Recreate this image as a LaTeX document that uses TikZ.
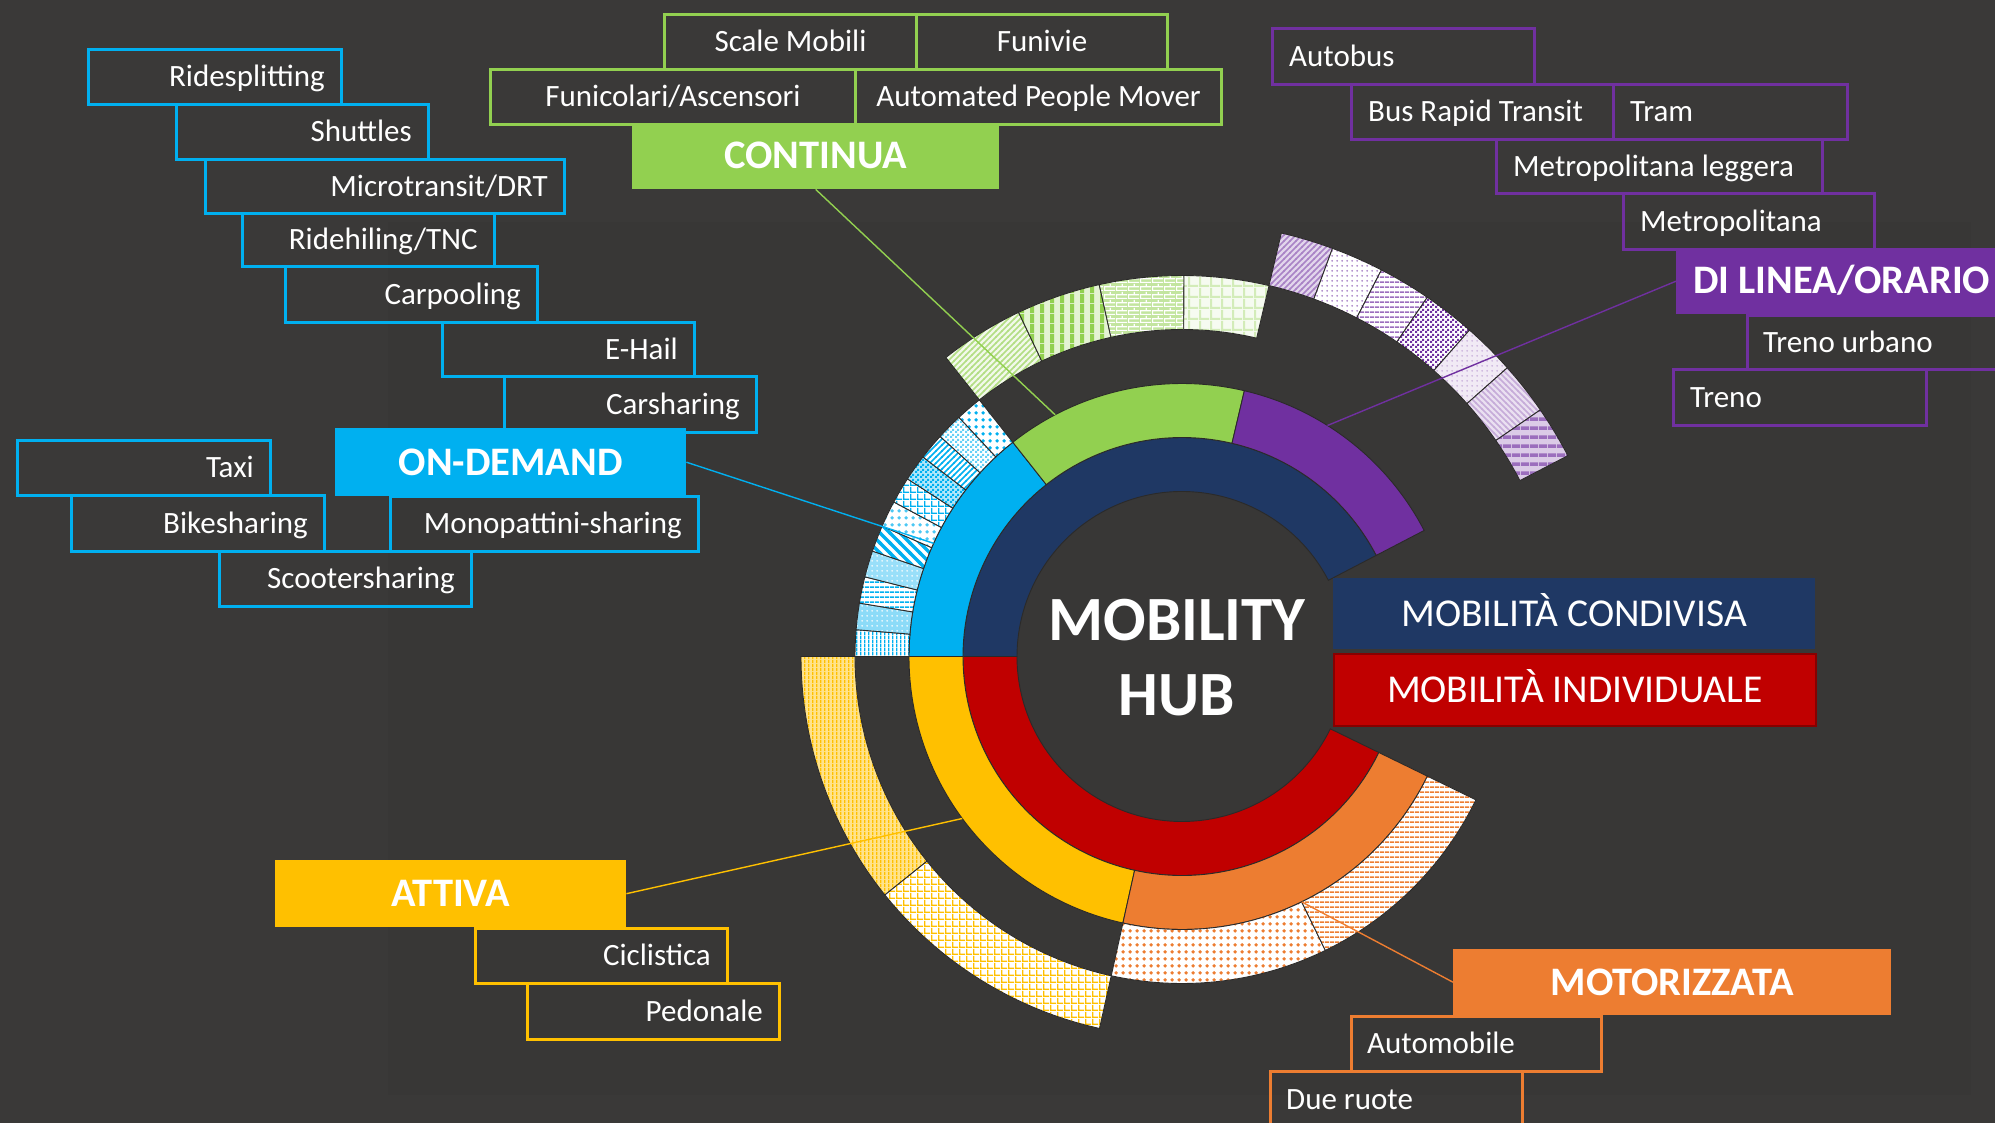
\documentclass[tikz,border=0pt]{standalone}
\usepackage{fontspec}
\setmainfont{Carlito}
\usetikzlibrary{patterns}
\definecolor{bgout}{HTML}{3A3938}
\definecolor{bgin}{HTML}{383736}
\definecolor{navy}{HTML}{1F3864}
\definecolor{cred}{HTML}{C00000}
\definecolor{ccyan}{HTML}{00B0F0}
\definecolor{cgreen}{HTML}{92D050}
\definecolor{cpurple}{HTML}{7030A0}
\definecolor{cyellow}{HTML}{FFC000}
\definecolor{corange}{HTML}{ED7D31}
\definecolor{sep}{HTML}{2B2A29}
\pgfdeclarepatternformonly{hstr}{\pgfpointorigin}{\pgfqpoint{5pt}{5pt}}{\pgfqpoint{5pt}{5pt}}{\pgfpathrectangle{\pgfpointorigin}{\pgfqpoint{5pt}{2pt}}\pgfusepath{fill}}
\pgfdeclarepatternformonly{hwide}{\pgfpointorigin}{\pgfqpoint{9pt}{9pt}}{\pgfqpoint{9pt}{9pt}}{\pgfpathrectangle{\pgfpointorigin}{\pgfqpoint{9pt}{4pt}}\pgfusepath{fill}}
\pgfdeclarepatternformonly{vstr}{\pgfpointorigin}{\pgfqpoint{4pt}{4pt}}{\pgfqpoint{4pt}{4pt}}{\pgfpathrectangle{\pgfpointorigin}{\pgfqpoint{1.6pt}{4pt}}\pgfusepath{fill}}
\pgfdeclarepatternformonly{vwide}{\pgfpointorigin}{\pgfqpoint{10pt}{10pt}}{\pgfqpoint{10pt}{10pt}}{\pgfpathrectangle{\pgfpointorigin}{\pgfqpoint{4.5pt}{10pt}}\pgfusepath{fill}}
\pgfdeclarepatternformonly{dsmall}{\pgfpointorigin}{\pgfqpoint{5pt}{5pt}}{\pgfqpoint{5pt}{5pt}}{\pgfpathcircle{\pgfqpoint{2.5pt}{2.5pt}}{1.1pt}\pgfusepath{fill}}
\pgfdeclarepatternformonly{dbig}{\pgfpointorigin}{\pgfqpoint{7pt}{7pt}}{\pgfqpoint{7pt}{7pt}}{\pgfpathcircle{\pgfqpoint{3.5pt}{3.5pt}}{2.1pt}\pgfusepath{fill}}
\pgfdeclarepatternformonly{gsmall}{\pgfpointorigin}{\pgfqpoint{7pt}{7pt}}{\pgfqpoint{7pt}{7pt}}{\pgfpathrectangle{\pgfpointorigin}{\pgfqpoint{7pt}{1.6pt}}\pgfpathrectangle{\pgfpointorigin}{\pgfqpoint{1.6pt}{7pt}}\pgfusepath{fill}}
\pgfdeclarepatternformonly{gbig}{\pgfpointorigin}{\pgfqpoint{11pt}{11pt}}{\pgfqpoint{11pt}{11pt}}{\pgfpathrectangle{\pgfpointorigin}{\pgfqpoint{11pt}{2.2pt}}\pgfpathrectangle{\pgfpointorigin}{\pgfqpoint{2.2pt}{11pt}}\pgfusepath{fill}}
\pgfdeclarepatternformonly{chk}{\pgfpointorigin}{\pgfqpoint{5pt}{5pt}}{\pgfqpoint{5pt}{5pt}}{\pgfpathrectangle{\pgfpointorigin}{\pgfqpoint{2.5pt}{2.5pt}}\pgfpathrectangle{\pgfqpoint{2.5pt}{2.5pt}}{\pgfqpoint{2.5pt}{2.5pt}}\pgfusepath{fill}}
\pgfdeclarepatternformonly{dne}{\pgfqpoint{-1pt}{-1pt}}{\pgfqpoint{7pt}{7pt}}{\pgfqpoint{6pt}{6pt}}{\pgfsetlinewidth{1.5pt}\pgfpathmoveto{\pgfqpoint{-0.5pt}{-0.5pt}}\pgfpathlineto{\pgfqpoint{6.5pt}{6.5pt}}\pgfusepath{stroke}}
\pgfdeclarepatternformonly{dnw}{\pgfqpoint{-1pt}{-1pt}}{\pgfqpoint{7pt}{7pt}}{\pgfqpoint{6pt}{6pt}}{\pgfsetlinewidth{1.5pt}\pgfpathmoveto{\pgfqpoint{-0.5pt}{6.5pt}}\pgfpathlineto{\pgfqpoint{6.5pt}{-0.5pt}}\pgfusepath{stroke}}
\pgfdeclarepatternformonly{dnwwide}{\pgfqpoint{-2pt}{-2pt}}{\pgfqpoint{12pt}{12pt}}{\pgfqpoint{10pt}{10pt}}{\pgfsetlinewidth{3.5pt}\pgfpathmoveto{\pgfqpoint{-1pt}{11pt}}\pgfpathlineto{\pgfqpoint{11pt}{-1pt}}\pgfusepath{stroke}}
\pgfdeclarepatternformonly{brk}{\pgfpointorigin}{\pgfqpoint{12pt}{8pt}}{\pgfqpoint{12pt}{8pt}}{\pgfpathrectangle{\pgfpointorigin}{\pgfqpoint{12pt}{1.3pt}}\pgfpathrectangle{\pgfqpoint{0pt}{4pt}}{\pgfqpoint{12pt}{1.3pt}}\pgfpathrectangle{\pgfpointorigin}{\pgfqpoint{1.3pt}{4pt}}\pgfpathrectangle{\pgfqpoint{6pt}{4pt}}{\pgfqpoint{1.3pt}{4pt}}\pgfusepath{fill}}
\newcommand\seg[5]{\path[#1] (#4:#2pt) arc[start angle=#4, end angle=#5, radius=#2pt] -- (#5:#3pt) arc[start angle=#5, end angle=#4, radius=#3pt] -- cycle;}
\newcommand\pseg[7]{\seg{fill=#1}{#4}{#5}{#6}{#7}\seg{pattern=#2,pattern color=#3}{#4}{#5}{#6}{#7}\seg{sepl}{#4}{#5}{#6}{#7}}
\begin{document}
\begin{tikzpicture}[x=1pt,y=-1pt,
  sepl/.style={draw=sep,line width=0.9pt},
  obox/.style={draw=#1,line width=3pt,inner sep=0pt,anchor=north west},
  fbox/.style={fill=#1,inner sep=0pt,anchor=north west},
  itm/.style={text=white,font=\fontsize{31}{37}\selectfont,text height=19.6pt,text depth=0pt,inner sep=0pt},
  cat/.style={text=white,font=\bfseries\fontsize{40.5}{48}\selectfont,text height=25.6pt,text depth=0pt,inner sep=0pt},
  leg/.style={text=white,font=\fontsize{39.5}{47}\selectfont,text height=25pt,text depth=0pt,inner sep=0pt},
  hub/.style={text=white,font=\bfseries\fontsize{63}{75}\selectfont,inner sep=0pt,anchor=base},
  conn/.style={line width=1.4pt}]
\useasboundingbox (0,0) rectangle (1995,1123);
\clip (0,0) rectangle (1995,1123);
\fill[bgout] (0,0) rectangle (1995,1123);
\fill[bgin] (388,222) rectangle (1971,1095);

\begin{scope}[shift={(1182pt,-656.5pt)},x=1pt,y=1pt]
 % ring 1
 \seg{fill=navy,sepl}{165}{219}{27.5}{180}
 \seg{fill=cred,sepl}{165}{219}{180}{334}
 % ring 2
 \seg{fill=ccyan,sepl}{219}{273}{128.3}{180}
 \seg{fill=cgreen,sepl}{219}{273}{76.8}{128.3}
 \seg{fill=cpurple,sepl}{219}{273}{27.5}{76.8}
 \seg{fill=cyellow,sepl}{219}{273}{180}{257.5}
 \seg{fill=corange,sepl}{219}{273}{257.5}{334}
 % ring 3: on-demand
 \pseg{white}{vstr}{ccyan}{273}{327}{175.3}{180}
 \pseg{ccyan!45}{dsmall}{white}{273}{327}{170.6}{175.3}
 \pseg{white}{hstr}{ccyan}{273}{327}{165.9}{170.6}
 \pseg{ccyan!40}{dsmall}{white}{273}{327}{161.2}{165.9}
 \pseg{white}{dnwwide}{ccyan}{273}{327}{156.5}{161.2}
 \pseg{white}{dbig}{ccyan!70}{273}{327}{151.8}{156.5}
 \pseg{white}{gsmall}{ccyan}{273}{327}{147.1}{151.8}
 \pseg{ccyan!30}{chk}{ccyan}{273}{327}{142.4}{147.1}
 \pseg{white}{dne}{ccyan}{273}{327}{137.7}{142.4}
 \pseg{white}{chk}{ccyan!60}{273}{327}{133.0}{137.7}
 \pseg{white}{dbig}{ccyan}{273}{327}{128.3}{133.0}
 % ring 3: motorizzata
 \pseg{white}{dbig}{corange}{273}{327}{257.5}{296}
 \pseg{white}{hstr}{corange}{273}{327}{296}{334}
 % ring 4: continua
 \pseg{cgreen!12}{dne}{cgreen!70}{327}{381}{115.4}{128.3}
 \pseg{cgreen!25}{vwide}{cgreen}{327}{381}{102.55}{115.4}
 \pseg{cgreen!55}{brk}{white}{327}{381}{89.7}{102.55}
 \pseg{cgreen!8}{gbig}{cgreen!40}{327}{381}{76.8}{89.7}
 % ring 4: attiva
 \pseg{cyellow!45}{vstr}{cyellow}{327}{381}{180}{218.75}
 \pseg{white}{gsmall}{cyellow}{327}{381}{218.75}{257.5}
 % ring 5: di linea
 \pseg{cpurple!20}{dne}{cpurple!60}{381}{435}{69.76}{76.8}
 \pseg{white}{dsmall}{cpurple!70}{381}{435}{62.71}{69.76}
 \pseg{white}{hstr}{cpurple!70}{381}{435}{55.67}{62.71}
 \pseg{white}{chk}{cpurple}{381}{435}{48.63}{55.67}
 \pseg{cpurple!10}{dsmall}{cpurple!40}{381}{435}{41.59}{48.63}
 \pseg{cpurple!15}{dnw}{cpurple!40}{381}{435}{34.54}{41.59}
 \pseg{cpurple!25}{hwide}{cpurple!70}{381}{435}{27.5}{34.54}
 % connector ends
 \coordinate (pg) at (117.7:273pt);
 \coordinate (pb) at (155.5:273pt);
 \coordinate (pp) at (57.8:273pt);
 \coordinate (py) at (216.4:273pt);
 \coordinate (po) at (296:273pt);
\end{scope}

% centre text
\node[hub] (hub1) at (1177,640) {MOBILITY};
\node[hub] (hub2) at (1177,715.5) {HUB};

% legend
\node[fbox=navy,minimum width=482pt,minimum height=71pt] (condiv) at (1333,578) {};
\node[leg] (condiv-t) at (condiv.center) {MOBILITÀ CONDIVISA};
\node[fill=cred,draw=cred!70!black,line width=1.5pt,inner sep=0pt,anchor=north west,minimum width=482pt,minimum height=72pt] (indiv) at (1333,653) {};
\node[leg] (indiv-t) at (indiv.center) {MOBILITÀ INDIVIDUALE};

% ON-DEMAND boxes
\node[obox=ccyan,minimum width=253pt,minimum height=55pt] (rides) at (87,48) {};
\node[itm,anchor=east] (rides-t) at ([xshift=-18pt]rides.east) {Ridesplitting};
\node[obox=ccyan,minimum width=252pt,minimum height=55pt] (shut) at (175,103) {};
\node[itm,anchor=east] (shut-t) at ([xshift=-18pt]shut.east) {Shuttles};
\node[obox=ccyan,minimum width=359pt,minimum height=54pt] (micro) at (204,158) {};
\node[itm,anchor=east] (micro-t) at ([xshift=-18pt]micro.east) {Microtransit/DRT};
\node[obox=ccyan,minimum width=252pt,minimum height=53pt] (rideh) at (241,212) {};
\node[itm,anchor=east] (rideh-t) at ([xshift=-18pt]rideh.east) {Ridehiling/TNC};
\node[obox=ccyan,minimum width=252pt,minimum height=56pt] (carp) at (284,265) {};
\node[itm,anchor=east] (carp-t) at ([xshift=-18pt]carp.east) {Carpooling};
\node[obox=ccyan,minimum width=252pt,minimum height=54pt] (ehail) at (441,321) {};
\node[itm,anchor=east] (ehail-t) at ([xshift=-18pt]ehail.east) {E-Hail};
\node[obox=ccyan,minimum width=252pt,minimum height=56pt] (cars) at (503,375) {};
\node[itm,anchor=east] (cars-t) at ([xshift=-18pt]cars.east) {Carsharing};
\node[obox=ccyan,minimum width=253pt,minimum height=55pt] (taxi) at (16,439) {};
\node[itm,anchor=east] (taxi-t) at ([xshift=-18pt]taxi.east) {Taxi};
\node[obox=ccyan,minimum width=253pt,minimum height=56pt] (bikes) at (70,494) {};
\node[itm,anchor=east] (bikes-t) at ([xshift=-18pt]bikes.east) {Bikesharing};
\node[obox=ccyan,minimum width=308pt,minimum height=55pt] (monop) at (389,495) {};
\node[itm,anchor=east] (monop-t) at ([xshift=-18pt]monop.east) {Monopattini-sharing};
\node[obox=ccyan,minimum width=252pt,minimum height=55pt] (scoot) at (218,550) {};
\node[itm,anchor=east] (scoot-t) at ([xshift=-18pt]scoot.east) {Scootersharing};
\node[fbox=ccyan,minimum width=351pt,minimum height=68pt] (ondem) at (335,428) {};
\node[cat] (ondem-t) at (ondem.center) {ON-DEMAND};

% CONTINUA boxes
\node[obox=cgreen,minimum width=252pt,minimum height=55pt] (scale) at (663,13) {};
\node[itm] (scale-t) at (scale.center) {Scale Mobili};
\node[obox=cgreen,minimum width=251pt,minimum height=55pt] (funiv) at (915,13) {};
\node[itm] (funiv-t) at (funiv.center) {Funivie};
\node[obox=cgreen,minimum width=365pt,minimum height=55pt] (funic) at (489,68) {};
\node[itm] (funic-t) at (funic.center) {Funicolari/Ascensori};
\node[obox=cgreen,minimum width=366pt,minimum height=55pt] (apm) at (854,68) {};
\node[itm] (apm-t) at (apm.center) {Automated People Mover};
\node[fbox=cgreen,minimum width=367pt,minimum height=66pt] (cont) at (632,123) {};
\node[cat] (cont-t) at (cont.center) {CONTINUA};

% DI LINEA boxes
\node[obox=cpurple,minimum width=262pt,minimum height=56pt] (autob) at (1271,27) {};
\node[itm,anchor=west] (autob-t) at ([xshift=18pt]autob.west) {Autobus};
\node[obox=cpurple,minimum width=262pt,minimum height=55pt] (brt) at (1350,83) {};
\node[itm,anchor=west] (brt-t) at ([xshift=18pt]brt.west) {Bus Rapid Transit};
\node[obox=cpurple,minimum width=234pt,minimum height=55pt] (tram) at (1612,83) {};
\node[itm,anchor=west] (tram-t) at ([xshift=18pt]tram.west) {Tram};
\node[obox=cpurple,minimum width=326pt,minimum height=54pt] (metl) at (1495,138) {};
\node[itm,anchor=west] (metl-t) at ([xshift=18pt]metl.west) {Metropolitana leggera};
\node[obox=cpurple,minimum width=251pt,minimum height=56pt] (metro) at (1622,192) {};
\node[itm,anchor=west] (metro-t) at ([xshift=18pt]metro.west) {Metropolitana};
\node[obox=cpurple,minimum width=260pt,minimum height=54pt] (trenou) at (1746,314) {};
\node[itm,anchor=west] (trenou-t) at ([xshift=17pt]trenou.west) {Treno urbano};
\node[obox=cpurple,minimum width=253pt,minimum height=56pt] (treno) at (1672,368) {};
\node[itm,anchor=west] (treno-t) at ([xshift=18pt]treno.west) {Treno};
\node[fbox=cpurple,minimum width=330pt,minimum height=66pt] (dil) at (1676,248) {};
\node[cat,anchor=west] (dil-t) at ([xshift=17pt]dil.west) {DI LINEA/ORARIO};

% ATTIVA boxes
\node[obox=cyellow,minimum width=252pt,minimum height=55pt] (cicl) at (474,927) {};
\node[itm,anchor=east] (cicl-t) at ([xshift=-18pt]cicl.east) {Ciclistica};
\node[obox=cyellow,minimum width=252pt,minimum height=56pt] (pedon) at (526,982) {};
\node[itm,anchor=east] (pedon-t) at ([xshift=-18pt]pedon.east) {Pedonale};
\node[fbox=cyellow,minimum width=351pt,minimum height=67pt] (attiva) at (275,860) {};
\node[cat] (attiva-t) at (attiva.center) {ATTIVA};

% MOTORIZZATA boxes
\node[obox=corange,minimum width=250pt,minimum height=55pt] (auto) at (1350,1015) {};
\node[itm,anchor=west] (auto-t) at ([xshift=17pt]auto.west) {Automobile};
\node[obox=corange,minimum width=252pt,minimum height=57pt] (due) at (1269,1070) {};
\node[itm,anchor=west] (due-t) at ([xshift=17pt]due.west) {Due ruote};
\node[fbox=corange,minimum width=438pt,minimum height=66pt] (motor) at (1453,949) {};
\node[cat] (motor-t) at (motor.center) {MOTORIZZATA};

% connectors
\draw[conn,cgreen] (cont.south) -- (pg);
\draw[conn,ccyan] (ondem.east) -- (pb);
\draw[conn,cpurple] (dil.west) -- (pp);
\draw[conn,cyellow] (attiva.east) -- (py);
\draw[conn,corange] (motor.west) -- (po);
\end{tikzpicture}
\end{document}
